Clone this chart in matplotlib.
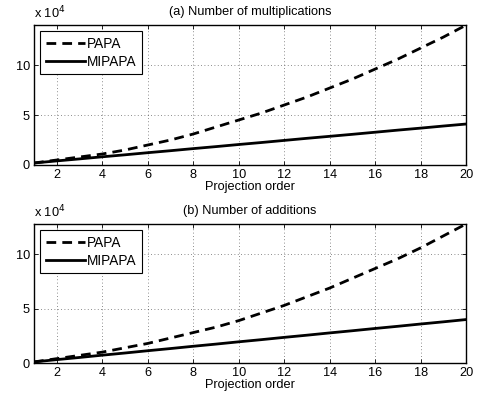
import numpy as np
import matplotlib
matplotlib.use("Agg")
import matplotlib.pyplot as plt

plt.rcParams["font.family"] = ["Liberation Sans", "DejaVu Sans"]

# projection order
order = list(range(1, 21))

# (a) number of multiplications, in units of 1e4
papa_mult = [0.2, 0.5, 0.8, 1.1, 1.5, 2.0, 2.5, 3.1, 3.8, 4.5,
             5.2, 6.0, 6.8, 7.7, 8.6, 9.6, 10.6, 11.7, 12.8, 14.0]
mipapa_mult = [0.2, 0.41, 0.61, 0.82, 1.02, 1.23, 1.43, 1.64, 1.84, 2.05,
               2.25, 2.46, 2.67, 2.87, 3.07, 3.28, 3.49, 3.69, 3.9, 4.1]

# (b) number of additions, in units of 1e4
papa_add = [0.1, 0.4, 0.7, 1.0, 1.4, 1.8, 2.3, 2.8, 3.3, 3.9,
            4.6, 5.3, 6.1, 6.9, 7.8, 8.7, 9.6, 10.6, 11.7, 12.8]
mipapa_add = [0.1, 0.31, 0.51, 0.72, 0.92, 1.13, 1.33, 1.54, 1.74, 1.95,
              2.15, 2.36, 2.56, 2.77, 2.97, 3.18, 3.38, 3.59, 3.79, 4.0]

titles = ["(a) Number of multiplications", "(b) Number of additions"]
x_ticks = list(range(2, 21, 2))
y_ticks = [0, 5, 10]

FS = 9.2


def draw_panel(ax, papa, mipapa, title):
    ax.plot(order, papa, color="black", linestyle=(0, (3.5, 2.2)), linewidth=2.0, label="PAPA")
    ax.plot(order, mipapa, color="black", linestyle="-", linewidth=2.0, label="MIPAPA")
    ax.set_xlim(1, 20)
    ax.set_ylim(0, max(papa))
    ax.set_xticks(x_ticks)
    ax.set_yticks(y_ticks)
    ax.grid(True, linestyle=(0, (1, 3)), color="black", linewidth=0.6, alpha=0.6)
    ax.tick_params(direction="in", top=True, right=True, labelsize=FS, length=3,
                   width=0.6, pad=3)
    for s in ax.spines.values():
        s.set_linewidth(1.0)
    ax.set_xlabel("Projection order", fontsize=FS, labelpad=0)
    ax.set_title(title, fontsize=9.2, pad=7)
    ax.text(0.0, 1.025, r"x 10$^4$", transform=ax.transAxes, fontsize=FS,
            ha="left", va="bottom")
    leg = ax.legend(loc="upper left", fontsize=9.8, frameon=True, fancybox=False,
                    borderaxespad=0.45, handlelength=2.9, handletextpad=0.15,
                    borderpad=0.4, labelspacing=0.3)
    leg.get_frame().set_edgecolor("black")
    leg.get_frame().set_linewidth(0.8)
    leg.get_frame().set_alpha(1.0)


fig = plt.figure(figsize=(4.81, 4.05), dpi=100)
ax1 = fig.add_axes([0.0707, 0.5926, 0.8983, 0.3454])
ax2 = fig.add_axes([0.0707, 0.1037, 0.8983, 0.3433])

draw_panel(ax1, papa_mult, mipapa_mult, titles[0])
draw_panel(ax2, papa_add, mipapa_add, titles[1])

fig.savefig("out.png", dpi=100)
